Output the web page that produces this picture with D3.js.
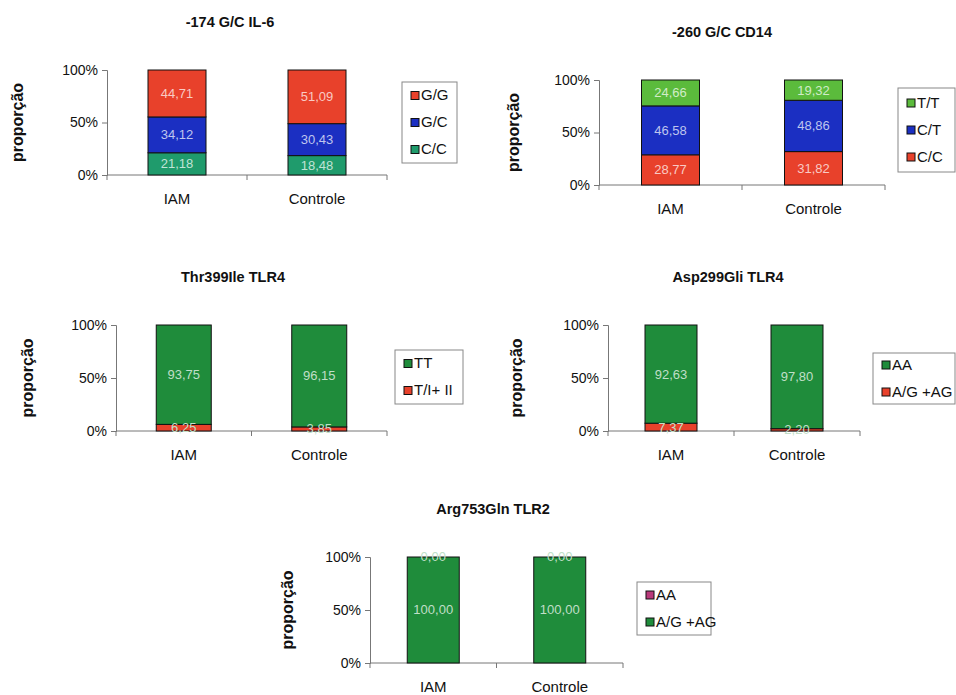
<!DOCTYPE html>
<html>
<head>
<meta charset="utf-8">
<script src="https://cdn.jsdelivr.net/npm/d3@7"></script>
<style>
  html, body { margin: 0; padding: 0; background: #ffffff; }
  svg { display: block; font-family: "Liberation Sans", Arial, sans-serif; }
</style>
</head>
<body>
<svg id="chart" width="956" height="695"></svg>
<script>
// Groups compared in every panel
const groups = ["IAM", "Controle"];
const yTicks = [0, 0.5, 1];

// -174 G/C IL-6 (stack order: bottom to top)
const il6Genotypes = ["C/C", "G/C", "G/G"];
const il6IAM = [21.18, 34.12, 44.71];
const il6Controle = [18.48, 30.43, 51.09];

// -260 G/C CD14
const cd14Genotypes = ["C/C", "C/T", "T/T"];
const cd14IAM = [28.77, 46.58, 24.66];
const cd14Controle = [31.82, 48.86, 19.32];

// Thr399Ile TLR4
const thrGenotypes = ["T/I+ II", "TT"];
const thrIAM = [6.25, 93.75];
const thrControle = [3.85, 96.15];

// Asp299Gli TLR4
const aspGenotypes = ["A/G +AG", "AA"];
const aspIAM = [7.37, 92.63];
const aspControle = [2.20, 97.80];

// Arg753Gln TLR2
const argGenotypes = ["A/G +AG", "AA"];
const argIAM = [100.00, 0.00];
const argControle = [100.00, 0.00];

const titles = ["-174 G/C IL-6", "-260 G/C CD14", "Thr399Ile TLR4", "Asp299Gli TLR4", "Arg753Gln TLR2"];
const yLabel = "proporção";

// Fill colours
const RED = "#e8412b", BLUE = "#1b2fc2", TEAL = "#1f9b6c", LIGHTGREEN = "#5bbb3c", DARKGREEN = "#1f8c3b", MAGENTA = "#b8397a";

const panels = [
  { title: titles[0], keys: il6Genotypes, rows: [il6IAM, il6Controle], colors: [TEAL, BLUE, RED],
    axisX: 107, right: 387, top: 70, bottom: 175, barW: 58, titleX: 230, ylabX: 19,
    legend: { x: 402, y: 82, w: 55, h: 81 } },
  { title: titles[1], keys: cd14Genotypes, rows: [cd14IAM, cd14Controle], colors: [RED, BLUE, LIGHTGREEN],
    axisX: 599, right: 885, top: 80, bottom: 185, barW: 58, titleX: 722, ylabX: 515,
    legend: { x: 898, y: 88, w: 57, h: 84 } },
  { title: titles[2], keys: thrGenotypes, rows: [thrIAM, thrControle], colors: [RED, DARKGREEN],
    axisX: 116, right: 387, top: 325, bottom: 431, barW: 55, titleX: 233, ylabX: 29,
    legend: { x: 395, y: 350, w: 68, h: 54 } },
  { title: titles[3], keys: aspGenotypes, rows: [aspIAM, aspControle], colors: [RED, DARKGREEN],
    axisX: 608, right: 860, top: 325, bottom: 431, barW: 52, titleX: 728, ylabX: 518,
    legend: { x: 873, y: 353, w: 82, h: 51 } },
  { title: titles[4], keys: argGenotypes, rows: [argIAM, argControle], colors: [DARKGREEN, MAGENTA],
    axisX: 370, right: 623, top: 557, bottom: 663, barW: 52, titleX: 493, ylabX: 289,
    legend: { x: 637, y: 582, w: 74, h: 53 } }
];

const svg = d3.select("#chart");
const fmt = v => d3.format(".2f")(v).replace(".", ",");

panels.forEach(p => {
  const g = svg.append("g");

  // Table of rows keyed by genotype, one row per group
  const table = groups.map((grp, i) => {
    const row = { group: grp };
    p.keys.forEach((k, j) => { row[k] = p.rows[i][j]; });
    return row;
  });
  const series = d3.stack().keys(p.keys).offset(d3.stackOffsetExpand)(table);
  const segments = series.flatMap(s => s.map(d => ({ d, key: s.key })));

  const x = d3.scaleBand().domain(groups).range([p.axisX, p.right]).padding(0);
  const y = d3.scaleLinear().domain([0, 1]).range([p.bottom, p.top]);
  const color = d3.scaleOrdinal().domain(p.keys).range(p.colors);

  // Label colour: light tint of the segment; tiny segments take the tint of the dominant one
  const labelColor = o => {
    const row = o.d.data;
    let key = o.key;
    if (row[key] < 10) key = p.keys.reduce((a, b) => (row[b] > row[a] ? b : a));
    return d3.interpolateRgb(color(key), "#ffffff")(0.72);
  };

  // Title
  g.append("text")
    .attr("x", p.titleX).attr("y", p.top - 47)
    .attr("text-anchor", "middle").attr("dominant-baseline", "middle")
    .attr("font-size", 14.5).attr("font-weight", "bold").attr("fill", "#111")
    .text(p.title);

  // Y axis
  const yAxis = g.append("g")
    .attr("transform", `translate(${p.axisX},0)`)
    .call(d3.axisLeft(y).tickValues(yTicks).tickFormat(d3.format(".0%")).tickSize(5).tickPadding(4));
  yAxis.select(".domain").attr("stroke", "#777");
  yAxis.selectAll(".tick line").attr("stroke", "#777");
  yAxis.selectAll(".tick text").attr("font-size", 14).attr("fill", "#111")
    .attr("font-family", "'Liberation Sans', Arial, sans-serif");

  // Y label
  g.append("text")
    .attr("transform", `translate(${p.ylabX},${(p.top + p.bottom) / 2}) rotate(-90)`)
    .attr("text-anchor", "middle").attr("dominant-baseline", "middle")
    .attr("font-size", 16).attr("font-weight", "bold").attr("fill", "#111")
    .text(yLabel);

  // X axis: line with ticks at category boundaries
  g.append("line")
    .attr("x1", p.axisX).attr("x2", p.right)
    .attr("y1", p.bottom).attr("y2", p.bottom)
    .attr("stroke", "#777");
  const bounds = groups.map(d => x(d)).concat([x.range()[1]]);
  g.selectAll(".xtick").data(bounds).join("line")
    .attr("x1", d => d).attr("x2", d => d)
    .attr("y1", p.bottom).attr("y2", p.bottom + 5)
    .attr("stroke", "#777");
  g.selectAll(".xlab").data(groups).join("text")
    .attr("x", d => x(d) + x.bandwidth() / 2)
    .attr("y", p.bottom + 25)
    .attr("text-anchor", "middle").attr("dominant-baseline", "middle")
    .attr("font-size", 15).attr("fill", "#111")
    .text(d => d);

  // Bars
  g.append("g").selectAll("rect").data(segments).join("rect")
    .attr("x", o => x(o.d.data.group) + (x.bandwidth() - p.barW) / 2)
    .attr("width", p.barW)
    .attr("y", o => y(o.d[1]))
    .attr("height", o => y(o.d[0]) - y(o.d[1]))
    .attr("fill", o => color(o.key))
    .attr("stroke", "#111").attr("stroke-width", 1);

  // Value labels, drawn above every bar segment
  g.append("g").selectAll("text").data(segments).join("text")
    .attr("x", o => x(o.d.data.group) + x.bandwidth() / 2)
    .attr("y", o => (y(o.d[0]) + y(o.d[1])) / 2 + 1)
    .attr("text-anchor", "middle").attr("dominant-baseline", "middle")
    .attr("font-size", 13)
    .attr("fill", labelColor)
    .text(o => fmt(o.d.data[o.key]));

  // Legend (top segment listed first)
  const L = p.legend;
  const lg = g.append("g");
  lg.append("rect")
    .attr("x", L.x).attr("y", L.y).attr("width", L.w).attr("height", L.h)
    .attr("fill", "#fff").attr("stroke", "#888");
  const items = p.keys.slice().reverse();
  const step = 27;
  const firstY = L.y + L.h / 2 - step * (items.length - 1) / 2;
  items.forEach((k, i) => {
    const cy = firstY + i * step;
    lg.append("rect")
      .attr("x", L.x + 9).attr("y", cy - 4).attr("width", 8).attr("height", 8)
      .attr("fill", color(k)).attr("stroke", "#111");
    lg.append("text")
      .attr("x", L.x + 19).attr("y", cy + 1)
      .attr("dominant-baseline", "middle")
      .attr("font-size", 15).attr("fill", "#111")
      .text(k);
  });
});
</script>
</body>
</html>
